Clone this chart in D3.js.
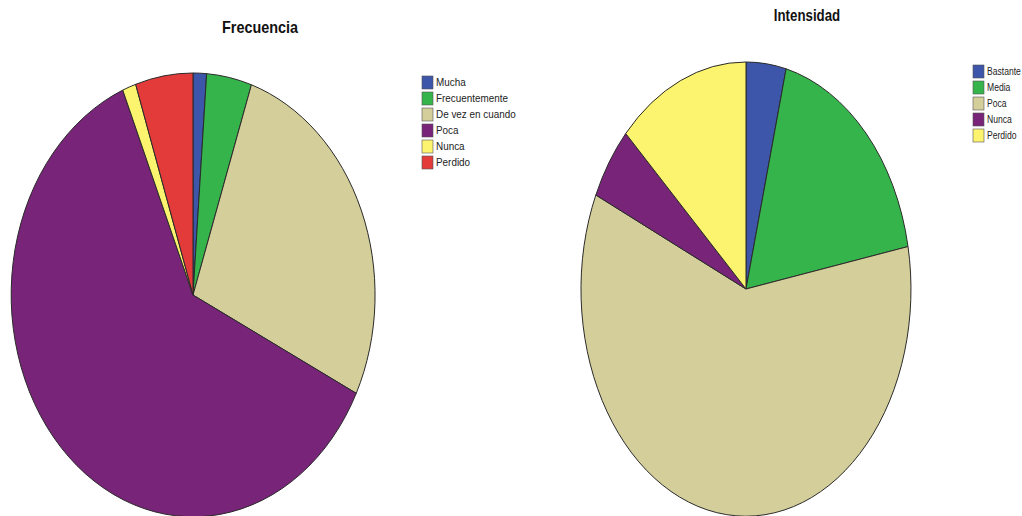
<!DOCTYPE html>
<html><head><meta charset="utf-8">
<script src="https://cdn.jsdelivr.net/npm/d3@7"></script>
<style>body{margin:0;background:#fff;} svg{display:block;}</style>
</head><body>
<svg id="c" width="1022" height="516"></svg>
<script>
const freqCategories = ["Mucha","Frecuentemente","De vez en cuando","Poca","Nunca","Perdido"];
const freqValues = [1.2, 4.0, 27.1, 61.4, 1.2, 5.1];
const freqColors = ["#3d56aa","#34b44a","#d4ce9a","#782478","#fcf46e","#e33a3a"];

const intCategories = ["Bastante","Media","Poca","Nunca","Perdido"];
const intValues = [3.9, 18.1, 59.8, 5.2, 13.0];
const intColors = ["#3d56aa","#34b44a","#d4ce9a","#782478","#fcf46e"];

const svg = d3.select("#c");
const font = "'Liberation Sans', Arial, sans-serif";

function drawPie(cfg){
  const pie = d3.pie().sort(null).value(d=>d.v);
  const data = pie(cfg.cats.map((c,i)=>({c, v:cfg.vals[i], col:cfg.cols[i]})));
  const arc = d3.arc().innerRadius(0).outerRadius(1);
  const g = svg.append("g").attr("transform",`translate(${cfg.cx},${cfg.cy}) scale(${cfg.rx},${cfg.ry})`);
  g.selectAll("path").data(data).join("path")
    .attr("d", arc)
    .attr("fill", d=>d.data.col)
    .attr("stroke", "#2a2a2a")
    .attr("stroke-width", 1)
    .attr("vector-effect","non-scaling-stroke");

  svg.append("g").attr("transform",`translate(${cfg.tx},${cfg.ty}) scale(${cfg.tsx},1)`)
    .append("text").attr("x", 0).attr("y", 0)
    .attr("text-anchor","middle").attr("font-family",font).attr("font-weight","bold")
    .attr("font-size",16).attr("fill","#111")
    .text(cfg.title);

  const lg = svg.append("g").attr("transform",`translate(${cfg.lx},${cfg.ly})`);
  const rows = lg.selectAll("g").data(data).join("g")
    .attr("transform",(d,i)=>`translate(0,${i*16})`);
  rows.append("rect").attr("x",0).attr("y",-6).attr("width",11).attr("height",13)
    .attr("fill",d=>d.data.col).attr("stroke","#555").attr("stroke-width",0.6);
  rows.append("g").attr("transform",`translate(14,4) scale(${cfg.sx},1)`)
    .append("text").attr("x",0).attr("y",0).attr("font-family",font)
    .attr("font-size",11).attr("fill","#222")
    .text(d=>d.data.c);
}

drawPie({cats:freqCategories, vals:freqValues, cols:freqColors,
  cx:193, cy:295, rx:182, ry:222, title:"Frecuencia", tx:260, ty:33, tsx:0.9, lx:422, ly:82, sx:0.9});
drawPie({cats:intCategories, vals:intValues, cols:intColors,
  cx:746, cy:289, rx:165, ry:227, title:"Intensidad", tx:807, ty:21, tsx:0.83, lx:973, ly:71, sx:0.78});
</script>
</body></html>
